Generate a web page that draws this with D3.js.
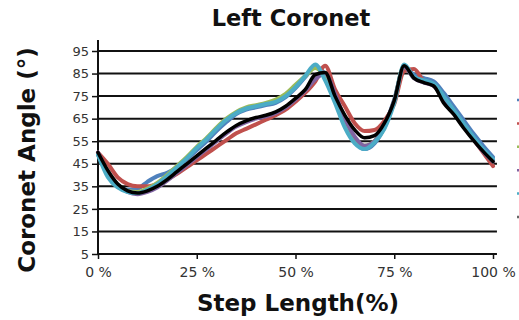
<!DOCTYPE html>
<html><head><meta charset="utf-8">
<script src="https://cdn.jsdelivr.net/npm/d3@7"></script>
<style>body{margin:0;background:#fff;} svg{display:block;}</style>
</head><body>
<script>
const steps = d3.range(0, 100.001, 2.5);
const seriesNames = ["S1","S2","S3","S4","S5","Mean"];
const seriesColors = ["#4F81BD","#C0504D","#9BBB59","#8064A2","#4BACC6","#000000"];
const blueVals   = [49,40,35,33.5,34,37,39.5,41,43.5,47,51,55,59.5,63.5,67,69,70,71,72,74.5,78.5,83.5,88,84.5,74,63,55,51.5,54,61.5,73.5,88,84.5,83,81.5,76.5,70.5,64.5,58.5,53,48];
const redVals    = [50,45,39,36,35,35,36,38,40.5,43.5,46.5,49.5,52.5,55.5,58.5,60.5,62.5,64.5,66.5,69,72.5,76.5,81.5,88.5,78,70.5,63,59.5,60,64,71.5,86,87,81.5,79.5,74.5,68.5,62,56,50,44];
const greenVals  = [49.5,40,35,33,32.5,34,36.5,40,44,48,52.5,56.5,61,65,68,70,71,72,73.5,76,80,84,87.5,83,73,63,55.5,53,55,61,73,88.5,83,81.5,80,74.5,68.5,62.5,56.5,51,46];
const purpleVals = [50,41,35.5,32.5,31.5,32.5,34.5,37.5,41,44.5,48,51.5,55,58.5,61.5,63.5,65,66,67.5,70,73.5,77.5,82.5,85,76,65,57,53,55,61.5,73,88,83,81,79.5,74,68,62,56,50.5,46];
const cyanVals   = [49,39,34.5,32.5,32,33.5,36,39.5,43.5,47.5,52,56,60.5,64.5,67.5,69.5,70.5,71.5,72.5,75,79,84,89,82,72,61,54,51.5,54.5,60.5,72,89,83.5,82,80.5,75,69,63,57,51.5,47];
const blackVals  = [50,42,36,33,32,33,35,38,41.5,45,48.5,52,55.5,59,62,64,65.5,66.5,68,70.5,74,78,84.5,85.5,75,66.5,60,56.5,57.5,63,73,88.5,83,81,79.5,72,67,61,55.5,50.5,46];
const allVals = [blueVals, redVals, greenVals, purpleVals, cyanVals, blackVals];
const yTicks = [5,15,25,35,45,55,65,75,85,95];
const xTicks = [0,25,50,75,100];
const xTickLabels = ["0 %","25 %","50 %","75 %","100 %"];

const W = 519, H = 320;
const svg = d3.select("body").append("svg").attr("width", W).attr("height", H);
const x = d3.scaleLinear().domain([0,100]).range([98,493]);
const y = d3.scaleLinear().domain([5,95]).range([254,51]);
const font = "'DejaVu Sans', Verdana, sans-serif";

// gridlines
svg.append("g").selectAll("line").data(yTicks.slice(1)).join("line")
  .attr("x1", x(0)).attr("x2", x(101)).attr("y1", d=>y(d)).attr("y2", d=>y(d))
  .attr("stroke","#111").attr("stroke-width",2);

// y axis
const yAxis = svg.append("g").attr("transform",`translate(${x(0)},0)`)
  .call(d3.axisLeft(y).tickValues(yTicks).tickSize(6).tickPadding(3));
yAxis.select(".domain").remove();
yAxis.selectAll(".tick line").attr("stroke","#111").attr("stroke-width",1.5);
yAxis.selectAll(".tick text").attr("font-family",font).attr("font-size",13).attr("fill","#333");
svg.append("line").attr("x1",x(0)).attr("x2",x(0)).attr("y1",40).attr("y2",y(5)+1)
  .attr("stroke","#111").attr("stroke-width",2);

// x axis
const xAxis = svg.append("g").attr("transform",`translate(0,${y(5)})`)
  .call(d3.axisBottom(x).tickValues(xTicks).tickFormat((d,i)=>xTickLabels[i]).tickSize(5).tickPadding(8));
xAxis.select(".domain").remove();
xAxis.selectAll(".tick line").attr("stroke","#111").attr("stroke-width",1.5);
xAxis.selectAll(".tick text").attr("font-family",font).attr("font-size",14).attr("fill","#333");
svg.append("line").attr("x1",x(0)-1).attr("x2",x(101)).attr("y1",y(5)).attr("y2",y(5))
  .attr("stroke","#111").attr("stroke-width",2);

// series
const line = d3.line().x((d,i)=>x(steps[i])).y(d=>y(d)).curve(d3.curveMonotoneX);
svg.append("g").selectAll("path").data(allVals).join("path")
  .attr("d", d=>line(d)).attr("fill","none")
  .attr("stroke",(d,i)=>seriesColors[i]).attr("stroke-width",(d,i)=>i===5?3.5:4)
  .attr("stroke-linejoin","round").attr("stroke-linecap","round");

// legend (cut off at right edge)
svg.append("g").selectAll("line").data(seriesNames).join("line")
  .attr("x1",517).attr("x2",530).attr("y1",(d,i)=>100+i*23.4).attr("y2",(d,i)=>100+i*23.4)
  .attr("stroke",(d,i)=>i===5?"#666":seriesColors[i]).attr("stroke-width",2.5);

// titles
svg.append("text").attr("x",291).attr("y",26).attr("text-anchor","middle")
  .attr("font-family",font).attr("font-weight","bold").attr("font-size",22.5).attr("fill","#111")
  .text("Left Coronet");
svg.append("text").attr("x",298).attr("y",311).attr("text-anchor","middle")
  .attr("font-family",font).attr("font-weight","bold").attr("font-size",23).attr("fill","#111")
  .text("Step Length(%)");
svg.append("text").attr("transform","translate(35,160) rotate(-90)").attr("text-anchor","middle")
  .attr("font-family",font).attr("font-weight","bold").attr("font-size",23).attr("fill","#111")
  .text("Coronet Angle (°)");
</script>
</body></html>
